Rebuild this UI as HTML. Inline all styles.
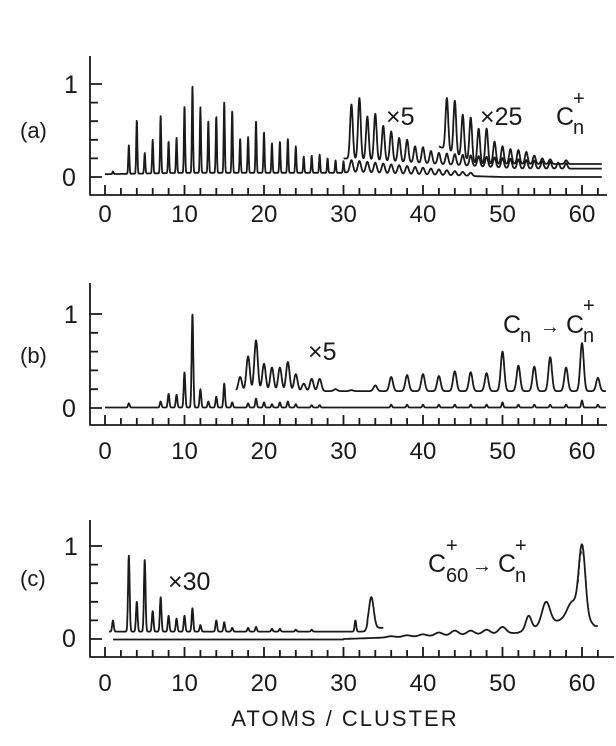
<!DOCTYPE html>
<html><head><meta charset="utf-8"><style>
html,body{margin:0;padding:0;background:#fff;}
svg{display:block;}
text{font-family:"Liberation Sans","DejaVu Sans",sans-serif;fill:#1a1a1a;}
</style></head><body>
<svg id="s" width="616" height="746" viewBox="0 0 616 746" xmlns="http://www.w3.org/2000/svg">
<g id="g" fill="none" stroke="#1a1a1a" stroke-width="1.8" stroke-linejoin="round"></g>
<g font-size="25">
<text x="20" y="138" font-size="22">(a)</text>
<text x="20" y="363" font-size="22">(b)</text>
<text x="20" y="586" font-size="22">(c)</text>
<text x="64" y="93">1</text><text x="62" y="186">0</text>
<text x="64" y="323">1</text><text x="62" y="417">0</text>
<text x="64" y="555">1</text><text x="62" y="647">0</text>
<text x="386" y="125">×5</text>
<text x="480" y="125">×25</text>
<text x="556" y="125">C</text><text x="573" y="134" font-size="20">n</text><text x="573" y="105" font-size="20">+</text>
<text x="308" y="360">×5</text>
<text x="503" y="333">C</text><text x="520" y="342" font-size="20">n</text><text x="540" y="333" font-size="20">→</text><text x="566" y="333">C</text><text x="583" y="342" font-size="20">n</text><text x="583" y="312" font-size="20">+</text>
<text x="168" y="590">×30</text>
<text x="428" y="572">C</text><text x="446" y="582" font-size="20">60</text><text x="446" y="552" font-size="20">+</text><text x="472" y="572" font-size="20">→</text><text x="498" y="572">C</text><text x="515" y="582" font-size="20">n</text><text x="515" y="552" font-size="20">+</text>
<text x="345" y="726" text-anchor="middle" font-size="22" letter-spacing="2">ATOMS / CLUSTER</text>
</g>
<g id="xl" font-size="24" text-anchor="middle"></g>
</svg>
<script>
var g=document.getElementById('g'),xl=document.getElementById('xl');
var NS='http://www.w3.org/2000/svg';
function X(n){return 105+n*7.95;}
function add(d,extra){var p=document.createElementNS(NS,'path');p.setAttribute('d',d);if(extra)for(var k in extra)p.setAttribute(k,extra[k]);g.appendChild(p);}
var panels=[{top:56,one:84,zero:177,axis:195,lab:222,xend:607},
{top:283,one:314,zero:408,axis:425,lab:459,xend:607},
{top:520,one:546,zero:639,axis:657,lab:691,xend:614}];
panels.forEach(function(P){
 var d='M90 '+P.top+' L90 '+P.axis+' L'+P.xend+' '+P.axis;
 var u=P.zero-P.one;
 for(var i=0;i<=5;i++){var y=P.zero-i*u/5;var l=(i==0||i==5)?12:8;d+=' M90 '+y+' L'+(90+l)+' '+y;}
 for(var n=0;n<=62;n+=2){var l=(n%10==0)?10:7;d+=' M'+X(n)+' '+P.axis+' L'+X(n)+' '+(P.axis-l);}
 add(d);
 for(var n=0;n<=60;n+=10){var t=document.createElementNS(NS,'text');t.setAttribute('x',X(n));t.setAttribute('y',P.lab);t.textContent=n;xl.appendChild(t);}
});
function trace(P,x0,x1,base,peaks,w,extra){
 var u=P.zero-P.one,d='';
 for(var x=x0;x<=x1+1e-9;x+=0.03){
  var b=typeof base=='function'?base(x):base,y=b;
  peaks.forEach(function(p){var ww=p[2]||w;var z=(x-p[0])/ww;y+=(p[1]-b)*Math.exp(-z*z/2);});
  d+=(d?' L':'M')+X(x).toFixed(1)+' '+(P.zero-y*u).toFixed(1);
 }
 add(d,extra);
}
var A=panels[0],B=panels[1],C=panels[2];
var pa=[[1,0.06],[3,0.34],[4,0.61],[5,0.26],[6,0.4],[7,0.66],[8,0.38],[9,0.42],[10,0.76],[11,0.98],[12,0.75],[13,0.6],[14,0.65],[15,0.8],[16,0.71],[17,0.41],[18,0.43],[19,0.6],[20,0.48],[21,0.36],[22,0.38],[23,0.41],[24,0.33],[25,0.22],[26,0.23],[27,0.24],[28,0.2],[29,0.18],[30,0.17]];
for(var n=31;n<=46;n++)pa.push([n,Math.max(0.02,0.17-(n-30)*0.009)+0.02,0.2]);
trace(A,0,62.5,function(x){return x<30?0.03+0.015*Math.min(1,x/10):Math.max(0.0,0.05-(x-30)*0.0025);},pa,0.07);
var p5=[[31,0.78],[32,0.85],[33,0.65],[34,0.68],[35,0.55],[36,0.49],[37,0.42],[38,0.4],[39,0.33],[40,0.32],[41,0.28]];
for(var n=42;n<=58;n++)p5.push([n,0.26-(n-42)*0.007]);
trace(A,30,62.5,function(x){return Math.max(0.09,0.2-(x-30)*0.005);},p5,0.17);
var p25=[[43,0.85],[44,0.82],[45,0.67],[46,0.64],[47,0.52],[48,0.52],[49,0.38],[50,0.33],[51,0.3],[52,0.29],[53,0.27],[54,0.23],[55,0.2],[56,0.19],[58,0.18]];
trace(A,42,62.5,function(x){return Math.max(0.14,0.33-(x-42)*0.04);},p25,0.17);
var pb=[[3,0.05],[7,0.07],[8,0.15],[9,0.14],[10,0.38],[11,1.0],[12,0.2],[13,0.07],[14,0.12],[15,0.26],[16,0.06],[18,0.05],[19,0.1],[20,0.06],[21,0.04],[22,0.06],[23,0.07],[24,0.04],[26,0.03],[27,0.03]];
[36,38,40,42,44,46,48,52,54,56,58,62].forEach(function(n){pb.push([n,0.035]);});pb.push([50,0.06],[60,0.08]);
trace(B,0,63,0.005,pb,0.1);
var pb5=[[17,0.33],[18,0.55],[19,0.72],[20,0.47],[21,0.43],[22,0.43],[23,0.49],[24,0.36],[25,0.26],[26,0.31],[27,0.31],[29,0.2],[31,0.19],[34,0.24],[36,0.33],[38,0.35],[40,0.36],[42,0.34],[44,0.39],[46,0.38],[48,0.37],[50,0.6],[52,0.45],[54,0.44],[56,0.54],[58,0.43],[60,0.69],[62,0.32]];
trace(B,16.5,63,0.18,pb5,0.22);
var pc=[[36,0.03],[38,0.04],[40,0.05],[42,0.07],[44,0.09],[46,0.09],[48,0.1],[50,0.13],[53.3,0.25,0.35],[55.5,0.4,0.5],[58.8,0.4,0.6],[60,1.0,0.4]];
trace(C,1,62,function(x){return x<30?-0.005:(x<52?(x-30)*0.003:(x<60?0.07+(x-52)*0.025:Math.max(0.14,0.27-(x-60)*0.08)));},pc,0.45);
add('M'+X(59.5)+' '+(C.zero-0.6*93)+' Q'+X(60)+' '+(C.zero-1.3*93)+' '+X(60.5)+' '+(C.zero-0.6*93),{'stroke-dasharray':'4 3','stroke-width':'1.3'});
var pc30=[[1,0.2],[3,0.9],[4,0.4],[5,0.85],[6,0.3],[7,0.45],[8,0.25],[9,0.22],[10,0.25],[11,0.33],[12,0.15],[14,0.2],[15,0.18],[16,0.12],[18,0.12],[19,0.13],[21,0.11],[22,0.11],[24,0.1],[26,0.1],[31.5,0.2],[33.5,0.45,0.3]];
trace(C,0.5,35,function(x){return x<33?0.08:0.12;},pc30,0.1);
</script>
</body></html>
